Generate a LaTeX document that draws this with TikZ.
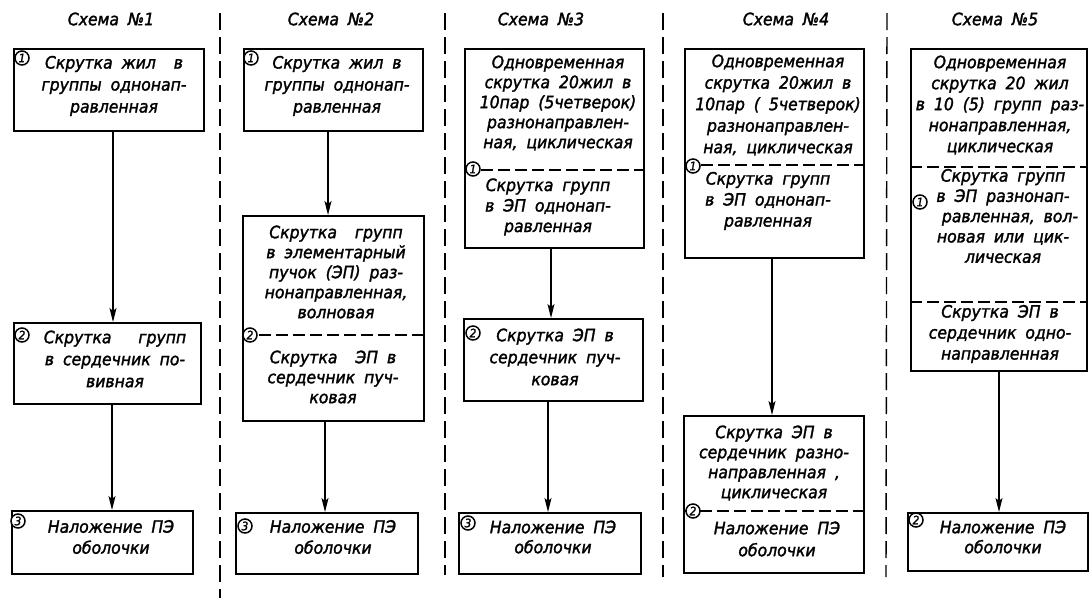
\documentclass[tikz,border=0pt]{standalone}
\usepackage{fontspec}
\setmainfont{DejaVu Sans}[WordSpace=1.8, FakeStretch=0.92, FakeBold=1.7]
\usetikzlibrary{arrows.meta}

\begin{document}
\begin{tikzpicture}[x=1pt,y=-1pt,
  box/.style={draw, line width=1.5pt, inner sep=0pt, anchor=north west},
  txt/.style={align=center, inner sep=0pt, font=\fontsize{17}{#1}\selectfont\itshape},
  txt/.default=21,
  hdr/.style={inner sep=0pt, font=\fontsize{17}{17}\selectfont\itshape},
  num/.style={shape=circle, draw=black, fill=white, line width=1.5pt,
    minimum size=14pt, inner sep=0pt,
    font=\fontsize{11.5}{11.5}\selectfont\itshape},
  colsep/.style={line width=1.4pt, dash pattern=on 17pt off 7pt},
  divider/.style={line width=1.2pt, dash pattern=on 12pt off 5pt},
  flow/.style={line width=1.3pt, -{Stealth[length=14pt,width=7pt,inset=3pt]}}
]
\fill[white] (0,0) rectangle (1090,598);
\useasboundingbox (0,0) rectangle (1090,598);

% column separators
\coordinate (s1t) at (220,13);  \coordinate (s1b) at (220,598);
\coordinate (s2t) at (445,13);  \coordinate (s2b) at (445,575);
\coordinate (s3t) at (663,13);  \coordinate (s3b) at (663,577);
\coordinate (s4t) at (887,13);  \coordinate (s4b) at (886,577);
\draw[colsep] (s1t) -- (s1b);
\draw[colsep] (s2t) -- (s2b);
\draw[colsep] (s3t) -- (s3b);
\draw[colsep] (s4t) -- (s4b);

% headings
\node[hdr] (h1) at (111,19) {Схема №1};
\node[hdr] (h2) at (331,19) {Схема №2};
\node[hdr] (h3) at (541,19) {Схема №3};
\node[hdr] (h4) at (786,19) {Схема №4};
\node[hdr] (h5) at (995,19) {Схема №5};

% ---- scheme 1
\node[box, minimum width=190pt, minimum height=82pt] (b11) at (13,48) {};
\node[box, minimum width=187pt, minimum height=81pt] (b12) at (13,322) {};
\node[box, minimum width=181pt, minimum height=63pt] (b13) at (11,510) {};
\node[txt=22] (t11) at (114,86) {Скрутка жил~ в\\группы однонап-\\равленная};
\node[txt=22] (t12) at (115,359) {Скрутка~~ групп\\в сердечник по-\\вивная};
\node[txt] (t13) at (111,537) {Наложение ПЭ\\оболочки};
\node[num] (c11) at (22,58) {1};
\node[num] (c12) at (22,335) {2};
\node[num] (c13) at (18,521) {3};
\draw[flow] (113,0 |- b11.south) -- (113,0 |- b12.north);
\draw[flow] (112,0 |- b12.south) -- (112,0 |- b13.north);

% ---- scheme 2
\node[box, minimum width=179pt, minimum height=82pt] (b21) at (243,48) {};
\node[box, minimum width=181pt, minimum height=205pt] (b22) at (242,215) {};
\node[box, minimum width=182pt, minimum height=61pt] (b23) at (235,512) {};
\draw[divider] (b22.west |- 0,335) -- (b22.east |- 0,335);
\node[txt=22] (t21) at (337,86) {Скрутка жил в\\группы однонап-\\равленная};
\node[txt=20] (t22a) at (336,272) {Скрутка~ групп\\в элементарный\\пучок (ЭП) раз-\\нонаправленная,\\волновая};
\node[txt=20] (t22b) at (333,377) {Скрутка~ ЭП в\\сердечник пуч-\\ковая};
\node[txt] (t23) at (333,537) {Наложение ПЭ\\оболочки};
\node[num] (c21) at (251,58) {1};
\node[num] (c22) at (250,335) {2};
\node[num] (c23) at (245,526) {3};
\draw[flow] (328,0 |- b21.south) -- (328,0 |- b22.north);
\draw[flow] (325,0 |- b22.south) -- (325,0 |- b23.north);

% ---- scheme 3
\node[box, minimum width=179pt, minimum height=199pt] (b31) at (464,48) {};
\node[box, minimum width=179pt, minimum height=82pt] (b32) at (463,318) {};
\node[box, minimum width=182pt, minimum height=61pt] (b33) at (458,512) {};
\draw[divider] (b31.west |- 0,170) -- (b31.east |- 0,170);
\node[txt=20] (t31a) at (558,103) {Одновременная\\скрутка 20жил в\\10пар (5четверок)\\разнонаправлен-\\ная, циклическая};
\node[txt=20.5] (t31b) at (548,207) {Скрутка групп\\в ЭП однонап-\\равленная};
\node[txt=22] (t32) at (555,357) {Скрутка ЭП в\\сердечник пуч-\\ковая};
\node[txt=20] (t33) at (553,537) {Наложение ПЭ\\оболочки};
\node[num] (c31) at (473,169) {1};
\node[num] (c32) at (473,333) {2};
\node[num] (c33) at (468,523) {3};
\draw[flow] (551,0 |- b31.south) -- (551,0 |- b32.north);
\draw[flow] (548,0 |- b32.south) -- (548,0 |- b33.north);

% ---- scheme 4
\node[box, minimum width=179pt, minimum height=209pt] (b41) at (684,48) {};
\node[box, minimum width=180pt, minimum height=157pt] (b42) at (683,415) {};
\draw[divider] (b41.west |- 0,165) -- (b41.east |- 0,165);
\draw[divider] (b42.west |- 0,511) -- (b42.east |- 0,511);
\node[txt=21.5] (t41a) at (778,105) {Одновременная\\скрутка 20жил в\\10пар ( 5четверок)\\разнонаправлен-\\ная, циклическая};
\node[txt=21] (t41b) at (768,201) {Скрутка групп\\в ЭП однонап-\\равленная};
\node[txt=20] (t42a) at (774,463) {Скрутка ЭП в\\сердечник разно-\\направленная ,\\циклическая};
\node[txt=22] (t42b) at (777,539) {Наложение ПЭ\\оболочки};
\node[num] (c41) at (693,166) {1};
\node[num] (c42) at (693,511) {2};
\draw[flow] (772,0 |- b41.south) -- (772,0 |- b42.north);

% ---- scheme 5
\node[box, minimum width=176pt, minimum height=322pt] (b51) at (910,48) {};
\node[box, minimum width=180pt, minimum height=58pt] (b52) at (907,512) {};
\draw[divider] (b51.west |- 0,167) -- (b51.east |- 0,167);
\draw[divider] (b51.west |- 0,302) -- (b51.east |- 0,302);
\node[txt=21] (t51a) at (1000,105) {Одновременная\\скрутка 20 жил\\в 10 (5) групп раз-\\нонаправленная,\\циклическая};
\node[txt=20.3] (t51b) at (1003,216) {Скрутка групп\\в ЭП разнонап-\\\hspace*{14pt}равленная, вол-\\новая или цик-\\лическая};
\node[txt=21] (t51c) at (1000,334) {Скрутка ЭП в\\сердечник одно-\\направленная};
\node[txt=20] (t52) at (1003,537) {Наложение ПЭ\\оболочки};
\node[num] (c51) at (920,202) {1};
\node[num] (c52) at (916,520) {2};
\draw[flow] (999,0 |- b51.south) -- (999,0 |- b52.north);

\end{tikzpicture}
\end{document}
